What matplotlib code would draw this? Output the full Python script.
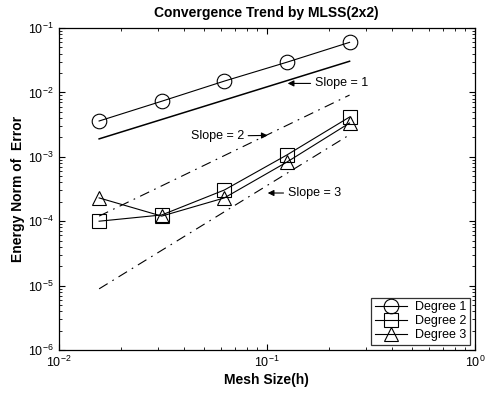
import matplotlib
matplotlib.use("Agg")
import matplotlib.pyplot as plt
import numpy as np

plt.rcParams['font.family'] = ['Liberation Sans', 'DejaVu Sans']

h = [1/64, 1/32, 1/16, 1/8, 1/4]
deg1 = [3.6e-3, 7.3e-3, 1.5e-2, 2.95e-2, 6.0e-2]
deg2 = [1.0e-4, 1.25e-4, 3.05e-4, 1.07e-3, 4.15e-3]
deg3 = [2.3e-4, 1.2e-4, 2.3e-4, 8.3e-4, 3.35e-3]
ref_h = [1/64, 1/4]
slope1 = [1.9e-3, 3.05e-2]
slope2 = [1.2e-4, 9.1e-3]
slope3 = [8.9e-6, 2.2e-3]

fig = plt.figure(figsize=(4.9, 3.95), dpi=100)
ax = fig.add_axes([0.120, 0.114, 0.849, 0.815])

mk = dict(color='black', lw=0.8, markersize=10.5, markerfacecolor='none', markeredgewidth=0.8)
ax.loglog(h, deg1, marker='o', label='Degree 1', **mk)
ax.loglog(h, deg2, marker='s', label='Degree 2', **mk)
ax.loglog(h, deg3, marker='^', label='Degree 3', **mk)
ax.loglog(ref_h, slope1, color='black', lw=1.1)
ax.loglog(ref_h, slope2, color='black', lw=0.8, linestyle=(0, (9, 5, 1.5, 5)))
ax.loglog(ref_h, slope3, color='black', lw=0.8, linestyle=(0, (9, 5, 1.5, 5)))

ax.set_xlim(1e-2, 1e0)
ax.set_ylim(1e-6, 1e-1)
ax.tick_params(which='both', direction='in', top=True, right=True, labelsize=9)
ax.tick_params(which='major', length=4)
ax.tick_params(which='minor', length=2)
for s in ax.spines.values():
    s.set_linewidth(0.9)

ax.set_title('Convergence Trend by MLSS(2x2)', fontsize=10, fontweight='bold', pad=8)
ax.set_xlabel('Mesh Size(h)', fontsize=10, fontweight='bold', labelpad=2)
ax.set_ylabel('Energy Norm of  Error', fontsize=10, fontweight='bold', labelpad=2)

arrow = dict(arrowstyle='-|>', color='black', lw=0.8, mutation_scale=9, shrinkA=1, shrinkB=0)
ax.annotate('Slope = 1', xy=(0.126, 1.38e-2), xytext=(0.170, 1.38e-2),
            fontsize=9, va='center', ha='left', arrowprops=arrow)
ax.annotate('Slope = 2', xy=(0.101, 2.15e-3), xytext=(0.0431, 2.1e-3),
            fontsize=9, va='center', ha='left', arrowprops=arrow)
ax.annotate('Slope = 3', xy=(0.101, 2.74e-4), xytext=(0.126, 2.74e-4),
            fontsize=9, va='center', ha='left', arrowprops=arrow)

leg = ax.legend(loc='lower right', fontsize=9, frameon=True, fancybox=False,
                edgecolor='black', borderpad=0.3, labelspacing=0.15,
                handlelength=2.6, handletextpad=0.6, borderaxespad=0.4)
leg.get_frame().set_linewidth(0.9)

fig.savefig('out.png', dpi=100)
